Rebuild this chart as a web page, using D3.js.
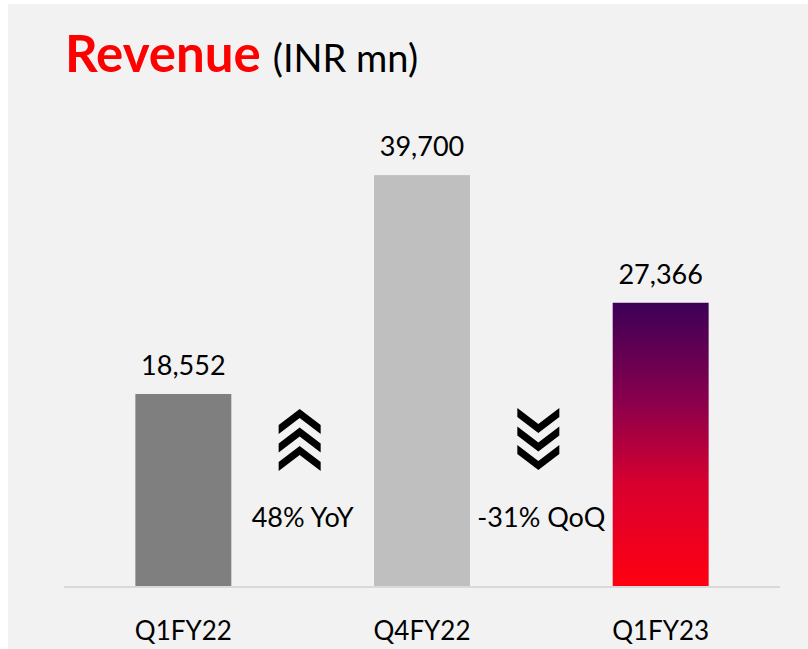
<!DOCTYPE html>
<html>
<head>
<meta charset="utf-8">
<script src="https://cdn.jsdelivr.net/npm/d3@7"></script>
<style>
  body { margin: 0; background: #ffffff; }
  text { font-family: Lato, "Open Sans", sans-serif; }
</style>
</head>
<body>
<div id="chart"></div>
<script>
var categories = ["Q1FY22", "Q4FY22", "Q1FY23"];
var revenue = [18552, 39700, 27366];
var valueLabels = ["18,552", "39,700", "27,366"];
var changeLabels = ["48% YoY", "-31% QoQ"];
var changeDirection = ["up", "down"];

var svgWidth = 808;
var svgHeight = 649;

var svg = d3.select("#chart")
    .append("svg")
    .attr("width", svgWidth)
    .attr("height", svgHeight);

svg.append("rect")
    .attr("x", 8)
    .attr("y", 4)
    .attr("width", svgWidth - 8)
    .attr("height", svgHeight - 4)
    .attr("fill", "#f2f2f2");

var defs = svg.append("defs");
var grad = defs.append("linearGradient")
    .attr("id", "redGrad")
    .attr("x1", 0).attr("y1", 0)
    .attr("x2", 0).attr("y2", 1);
grad.append("stop").attr("offset", "0%").attr("stop-color", "#3c0058");
grad.append("stop").attr("offset", "35%").attr("stop-color", "#8a004c");
grad.append("stop").attr("offset", "65%").attr("stop-color", "#d9002e");
grad.append("stop").attr("offset", "100%").attr("stop-color", "#ff0012");

var barFills = ["#7f7f7f", "#bfbfbf", "url(#redGrad)"];

var xScale = d3.scaleBand()
    .domain(categories)
    .range([64, 780])
    .paddingInner(0.598)
    .paddingOuter(0.299);

var yScale = d3.scaleLinear()
    .domain([0, 40000])
    .range([586, 172]);

// title
var title = svg.append("text")
    .attr("x", 65)
    .attr("y", 72);
title.append("tspan")
    .attr("fill", "#ff0000")
    .attr("font-weight", "bold")
    .attr("font-size", 51)
    .text("Revenue");
title.append("tspan")
    .attr("fill", "#000")
    .attr("font-size", 38)
    .attr("dx", 12)
    .text("(INR mn)");

// bars
svg.selectAll(".bar")
    .data(revenue)
    .enter()
    .append("rect")
    .attr("class", "bar")
    .attr("x", function(d, i) { return xScale(categories[i]); })
    .attr("y", function(d) { return yScale(d); })
    .attr("width", xScale.bandwidth())
    .attr("height", function(d) { return yScale(0) - yScale(d); })
    .attr("fill", function(d, i) { return barFills[i]; });

// axis line
svg.append("line")
    .attr("x1", 64)
    .attr("x2", 780)
    .attr("y1", yScale(0) + 1)
    .attr("y2", yScale(0) + 1)
    .attr("stroke", "#d9d9d9")
    .attr("stroke-width", 2);

// value labels
svg.selectAll(".valueLabel")
    .data(revenue)
    .enter()
    .append("text")
    .attr("class", "valueLabel")
    .attr("x", function(d, i) { return xScale(categories[i]) + xScale.bandwidth() / 2; })
    .attr("y", function(d) { return yScale(d) - 19; })
    .attr("text-anchor", "middle")
    .attr("font-size", 27)
    .attr("fill", "#000")
    .text(function(d, i) { return valueLabels[i]; });

// category labels
svg.selectAll(".catLabel")
    .data(categories)
    .enter()
    .append("text")
    .attr("class", "catLabel")
    .attr("x", function(d) { return xScale(d) + xScale.bandwidth() / 2; })
    .attr("y", 640)
    .attr("text-anchor", "middle")
    .attr("font-size", 26)
    .attr("fill", "#000")
    .text(function(d) { return d; });

// change annotations between bars
function gapCenter(i) {
    var left = xScale(categories[i]) + xScale.bandwidth();
    var right = xScale(categories[i + 1]);
    return (left + right) / 2;
}

var w = 42, h = 16, t = 9, step = 18.5;
function chevron(dir) {
    if (dir === "up") {
        return "M" + (-w / 2) + ",0 L0," + (-h) + " L" + (w / 2) + ",0 L" + (w / 2) + "," + t +
            " L0," + (t - h) + " L" + (-w / 2) + "," + t + "Z";
    }
    return "M" + (-w / 2) + ",0 L0," + h + " L" + (w / 2) + ",0 L" + (w / 2) + "," + (-t) +
        " L0," + (h - t) + " L" + (-w / 2) + "," + (-t) + "Z";
}

changeLabels.forEach(function(label, i) {
    var cx = gapCenter(i);
    var g = svg.append("g");
    [0, 1, 2].forEach(function(k) {
        var y0 = changeDirection[i] === "up" ? 425 + k * step : 417 + k * step;
        g.append("path")
            .attr("d", chevron(changeDirection[i]))
            .attr("transform", "translate(" + (cx - 3) + "," + y0 + ")")
            .attr("fill", "#000");
    });
    svg.append("text")
        .attr("x", cx)
        .attr("y", 527)
        .attr("text-anchor", "middle")
        .attr("font-size", 27)
        .attr("fill", "#000")
        .text(label);
});
</script>
</body>
</html>
